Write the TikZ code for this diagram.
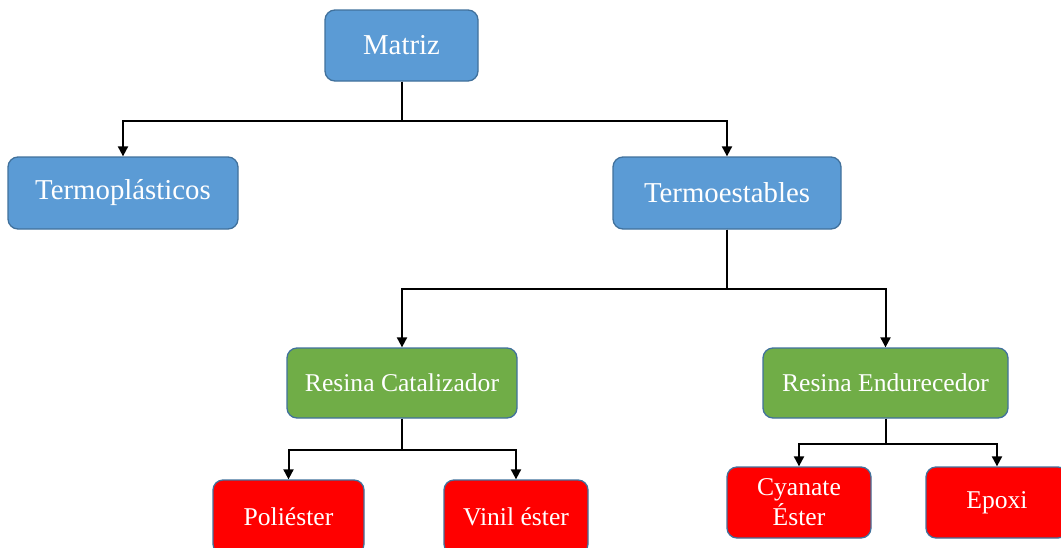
\documentclass[tikz,border=0pt]{standalone}
\usepackage{fontspec}
\setmainfont{Liberation Serif}
\usetikzlibrary{arrows.meta}
\definecolor{boxblue}{HTML}{5B9BD5}
\definecolor{boxgreen}{HTML}{70AD47}
\definecolor{boxred}{HTML}{FF0000}
\definecolor{edgeblue}{HTML}{41719C}
\tikzset{
  box/.style={draw=edgeblue, line width=1.3pt, rounded corners=10pt,
    text=white, inner sep=0pt, align=center},
  topbox/.style={box, fill=boxblue, font=\fontsize{28.8}{32}\selectfont},
  midbox/.style={box, fill=boxgreen, font=\fontsize{25.6}{30}\selectfont},
  leafbox/.style={box, fill=boxred, font=\fontsize{25.6}{30}\selectfont},
  conn/.style={draw=black, line width=2pt,
    -{Triangle[length=10pt,width=10pt]}}
}
\begin{document}
\begin{tikzpicture}[x=1pt,y=-1pt]
  \useasboundingbox (0,0) rectangle (1061,547);

  % first level
  \node[topbox, minimum width=153pt, minimum height=71pt] (m) at (401.5,45.5) {Matriz};
  \node[topbox, minimum width=230pt, minimum height=72pt] (tp) at (123,193) {Termoplásticos};
  \node[topbox, minimum width=228pt, minimum height=72pt] (te) at (727,193) {Termoestables};

  % resin systems
  \node[midbox, minimum width=230pt, minimum height=70pt] (rc) at (402,383) {Resina Catalizador};
  \node[midbox, minimum width=245pt, minimum height=70pt] (re) at (885.5,383) {Resina Endurecedor};

  % leaves
  \node[leafbox, minimum width=151pt, minimum height=74pt] (po) at (288.5,517) {Poliéster};
  \node[leafbox, minimum width=144pt, minimum height=74pt] (ve) at (516,517) {Vinil éster};
  \node[leafbox, minimum width=144pt, minimum height=71pt] (ce) at (799,502.5) {Cyanate\\Éster};
  \node[leafbox, minimum width=142pt, minimum height=71pt] (ep) at (997,502.5) {Epoxi};

  % connectors
  \draw[conn] (m.south) -- ++(0,39) -| (tp.north);
  \draw[conn] (m.south) -- ++(0,39) -| (te.north);
  \draw[conn] (te.south) -- ++(0,59) -| (rc.north);
  \draw[conn] (te.south) -- ++(0,59) -| (re.north);
  \draw[conn] (rc.south) -- ++(0,31) -| (po.north);
  \draw[conn] (rc.south) -- ++(0,31) -| (ve.north);
  \draw[conn] (re.south) -- ++(0,25) -| (ce.north);
  \draw[conn] (re.south) -- ++(0,25) -| (ep.north);
\end{tikzpicture}
\end{document}
